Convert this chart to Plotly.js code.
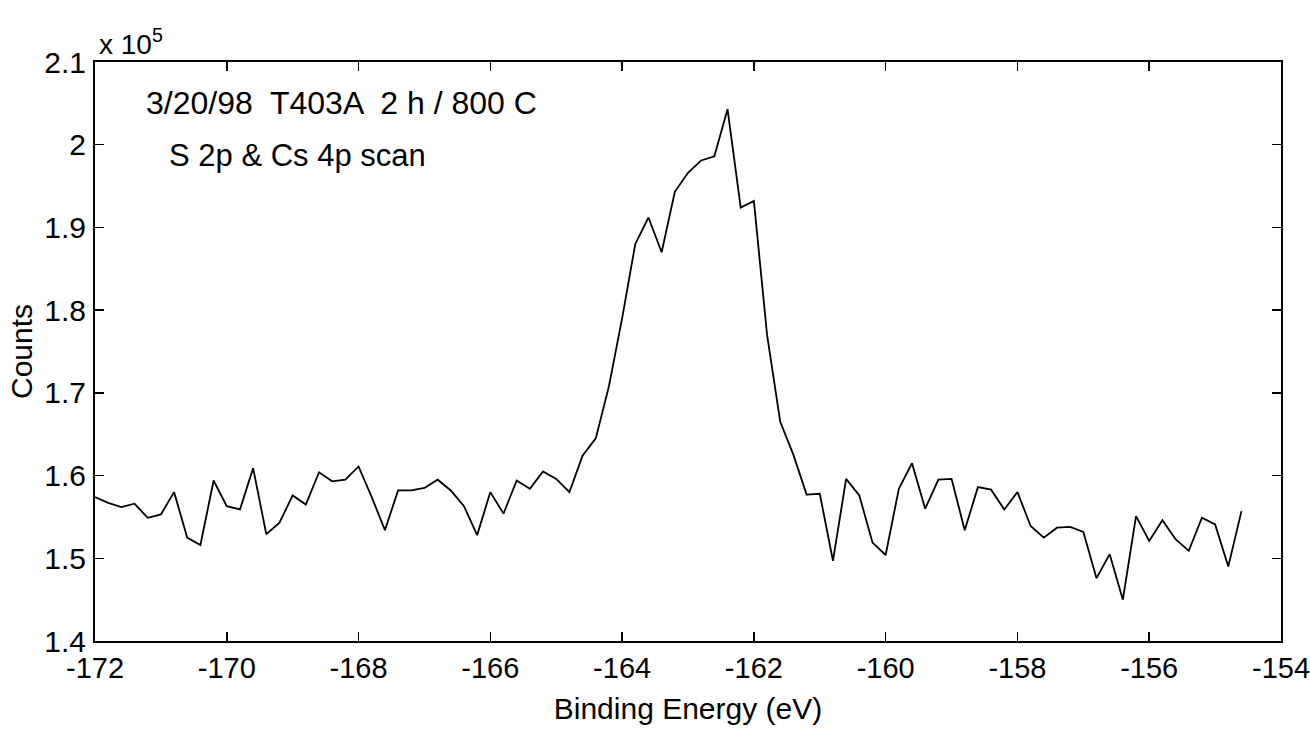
<!DOCTYPE html>
<html>
<head>
<meta charset="utf-8">
<script src="https://cdn.plot.ly/plotly-3.0.1.min.js"></script>
<style>html,body{margin:0;padding:0;background:#fff;}#chart{width:1310px;height:731px;}</style>
</head>
<body>
<div id="chart"></div>
<script>
// Binding energy start and step (eV)
const energyStart = -172;
const energyStep = 0.2;
// Counts in units of 10^5
const countsE5 = [
  1.574, 1.567, 1.562, 1.566, 1.549, 1.553, 1.580, 1.525, 1.516, 1.594,
  1.563, 1.559, 1.609, 1.529, 1.543, 1.576, 1.565, 1.604, 1.593, 1.595,
  1.611, 1.574, 1.534, 1.582, 1.582, 1.585, 1.595, 1.582, 1.563, 1.528,
  1.580, 1.554, 1.594, 1.584, 1.605, 1.596, 1.580, 1.624, 1.645, 1.708,
  1.790, 1.880, 1.912, 1.870, 1.943, 1.966, 1.981, 1.986, 2.043, 1.924,
  1.932, 1.770, 1.665, 1.625, 1.577, 1.578, 1.497, 1.596, 1.576, 1.519,
  1.504, 1.584, 1.615, 1.560, 1.595, 1.596, 1.534, 1.586, 1.583, 1.559,
  1.580, 1.539, 1.525, 1.537, 1.538, 1.532, 1.476, 1.505, 1.450, 1.551,
  1.521, 1.546, 1.523, 1.509, 1.549, 1.541, 1.490, 1.557
];
const bindingEnergy = countsE5.map((_, i) => +(energyStart + i * energyStep).toFixed(1));

const xTickVals = [-172, -170, -168, -166, -164, -162, -160, -158, -156, -154];
const xTickText = ["-172", "-170", "-168", "-166", "-164", "-162", "-160", "-158", "-156", "-154"];
const yTickVals = [1.4, 1.5, 1.6, 1.7, 1.8, 1.9, 2.0, 2.1];
const yTickText = ["1.4", "1.5", "1.6", "1.7", "1.8", "1.9", "2", "2.1"];

const noteLine1 = "3/20/98  T403A  2 h / 800 C";
const noteLine2 = "S 2p &amp; Cs 4p scan";

const font = "Liberation Sans, Arial, sans-serif";
const fs = 30;

const trace = {
  x: bindingEnergy,
  y: countsE5,
  type: "scatter",
  mode: "lines",
  line: {color: "#000", width: 1.8},
  hoverinfo: "x+y"
};

const axisCommon = {
  showgrid: false,
  zeroline: false,
  showline: true,
  linecolor: "#000",
  linewidth: 2,
  mirror: "ticks",
  ticks: "inside",
  ticklen: 9,
  tickwidth: 1.5,
  tickcolor: "#000",
  ticklabeloverflow: "allow",
  tickfont: {family: font, size: fs, color: "#000"}
};

const layout = {
  width: 1310,
  height: 731,
  margin: {l: 95, r: 29, t: 62, b: 90},
  paper_bgcolor: "#fff",
  plot_bgcolor: "#fff",
  showlegend: false,
  xaxis: Object.assign({}, axisCommon, {
    range: [-172, -154],
    tickmode: "array",
    tickvals: xTickVals,
    ticktext: xTickText,
    tickfont: {family: font, size: 29, color: "#000"},
    title: {text: "Binding Energy (eV)", font: {family: font, size: fs, color: "#000"}, standoff: 15}
  }),
  yaxis: Object.assign({}, axisCommon, {
    range: [1.4, 2.1],
    tickmode: "array",
    tickvals: yTickVals,
    ticktext: yTickText,
    ticklabelstandoff: 1,
    title: {text: "Counts", font: {family: font, size: fs, color: "#000"}, standoff: 3}
  }),
  annotations: [
    {xref: "x", yref: "y", x: -171.25, y: 2.05, xanchor: "left", yanchor: "middle",
     text: noteLine1, showarrow: false, font: {family: font, size: 32, color: "#000"}},
    {xref: "x", yref: "y", x: -170.9, y: 1.987, xanchor: "left", yanchor: "middle",
     text: noteLine2, showarrow: false, font: {family: font, size: 31, color: "#000"}},
    {xref: "paper", yref: "paper", x: 0.002, y: 1, xanchor: "left", yanchor: "bottom", yshift: 0,
     text: "x 10<sup>5</sup>", showarrow: false, font: {family: font, size: 28, color: "#000"}}
  ]
};

Plotly.newPlot("chart", [trace], layout, {displayModeBar: false, staticPlot: true});
</script>
</body>
</html>
